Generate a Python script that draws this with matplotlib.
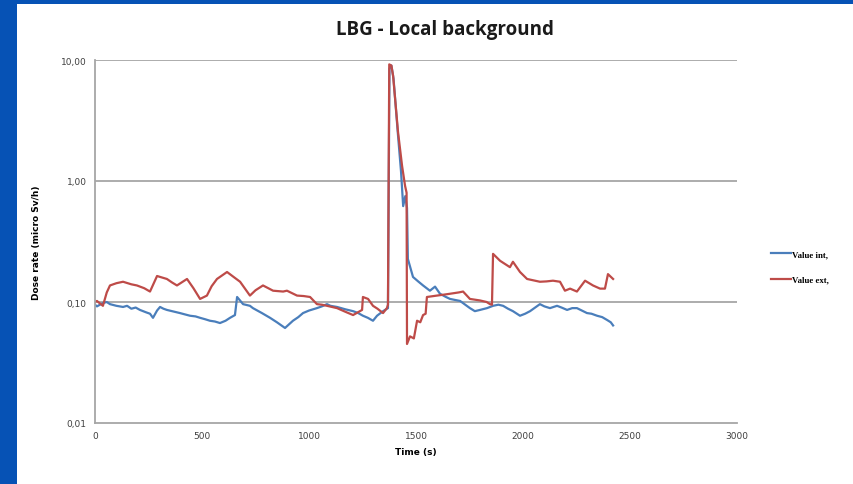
import matplotlib.pyplot as plt
from matplotlib.patches import Rectangle
from matplotlib.ticker import FixedLocator, NullLocator

# Value int, (blue)
t_int = [0, 9, 37, 55, 70, 100, 131, 150, 170, 190, 210, 240, 257, 271, 290, 304, 320, 336,
         360, 397, 420, 444, 470, 491, 515, 537, 560, 584, 610, 631, 654, 664, 692, 724,
         738, 780, 818, 850, 888, 925, 950, 972, 1000, 1037, 1060, 1084, 1100, 1131, 1170,
         1206, 1230, 1252, 1275, 1299, 1318, 1346, 1369, 1376, 1385, 1395, 1415, 1430, 1440,
         1450, 1458, 1462, 1486, 1510, 1533, 1565, 1589, 1612, 1640, 1659, 1706, 1730, 1752,
         1775, 1799, 1832, 1860, 1885, 1907, 1930, 1953, 1986, 2010, 2033, 2079, 2100, 2126,
         2159, 2180, 2206, 2230, 2252, 2275, 2299, 2320, 2346, 2370, 2393, 2410, 2421]
v_int = [0.095, 0.092, 0.098, 0.100, 0.096, 0.093, 0.091, 0.093, 0.088, 0.090, 0.086, 0.082,
         0.080, 0.074, 0.085, 0.091, 0.088, 0.086, 0.084, 0.081, 0.079, 0.077, 0.076, 0.074,
         0.072, 0.070, 0.069, 0.067, 0.070, 0.074, 0.078, 0.110, 0.096, 0.093, 0.089, 0.081,
         0.074, 0.068, 0.061, 0.070, 0.075, 0.081, 0.085, 0.089, 0.092, 0.096, 0.093, 0.091,
         0.087, 0.084, 0.081, 0.077, 0.074, 0.070, 0.077, 0.084, 0.089, 8.5, 9.0, 7.0, 2.5,
         1.2, 0.62, 0.75, 0.6, 0.227, 0.161, 0.148, 0.137, 0.124, 0.134, 0.117, 0.110, 0.106,
         0.102, 0.095, 0.089, 0.084, 0.086, 0.089, 0.093, 0.095, 0.093, 0.088, 0.084, 0.077,
         0.080, 0.084, 0.096, 0.092, 0.089, 0.093, 0.090, 0.086, 0.089, 0.089, 0.085, 0.081,
         0.080, 0.077, 0.075, 0.071, 0.068, 0.064]

# Value ext, (red)
t_ext = [0, 9, 37, 55, 70, 100, 131, 170, 196, 230, 257, 290, 310, 336, 360, 383, 430, 460,
         491, 523, 545, 570, 617, 650, 678, 724, 750, 785, 832, 879, 897, 944, 975, 1005,
         1037, 1060, 1084, 1131, 1170, 1206, 1248, 1252, 1276, 1299, 1320, 1346, 1364, 1369,
         1375, 1385, 1393, 1416, 1435, 1449, 1456, 1458, 1472, 1490, 1505, 1520, 1533, 1545,
         1551, 1598, 1630, 1659, 1700, 1720, 1752, 1799, 1830, 1846, 1855, 1860, 1893, 1939,
         1953, 1986, 2019, 2079, 2110, 2140, 2173, 2196, 2220, 2252, 2290, 2327, 2360, 2383,
         2397, 2421]
v_ext = [0.100, 0.102, 0.093, 0.120, 0.137, 0.143, 0.147, 0.140, 0.137, 0.130, 0.122, 0.164,
         0.160, 0.155, 0.145, 0.137, 0.155, 0.130, 0.106, 0.113, 0.135, 0.155, 0.177, 0.160,
         0.147, 0.113, 0.125, 0.137, 0.124, 0.122, 0.124, 0.113, 0.112, 0.110, 0.096, 0.095,
         0.093, 0.089, 0.083, 0.078, 0.086, 0.110, 0.106, 0.093, 0.088, 0.081, 0.089, 0.095,
         9.2, 9.0, 7.4, 2.54, 1.33, 0.91, 0.8, 0.045, 0.052, 0.050, 0.070, 0.068, 0.078,
         0.080, 0.110, 0.113, 0.115, 0.117, 0.120, 0.122, 0.106, 0.103, 0.100, 0.096, 0.095,
         0.250, 0.219, 0.194, 0.215, 0.177, 0.155, 0.147, 0.148, 0.150, 0.147, 0.124, 0.129,
         0.122, 0.150, 0.137, 0.129, 0.129, 0.170, 0.155]

y_ticks = [0.01, 0.1, 1, 10]
y_labels = ['0,01', '0,10', '1,00', '10,00']
x_ticks = [0, 500, 1000, 1500, 2000, 2500, 3000]

fig = plt.figure(figsize=(8.54, 4.85), dpi=100)
fig.patch.set_facecolor('#0652b5')
fig.patches.append(Rectangle((17 / 854, 0), 1, 480 / 485, transform=fig.transFigure,
                             facecolor='white', edgecolor='none', zorder=-10))

ax = fig.add_axes([95 / 854, 61 / 485, 642 / 854, 363 / 485])
ax.set_facecolor('none')
ax.plot(t_int, v_int, color='#4a7ebb', lw=1.6, label='Value int,')
ax.plot(t_ext, v_ext, color='#be4b48', lw=1.6, label='Value ext,')

ax.set_yscale('log')
ax.set_ylim(0.01, 10)
ax.set_xlim(0, 3000)
ax.yaxis.set_major_locator(FixedLocator(y_ticks))
ax.yaxis.set_minor_locator(NullLocator())
ax.set_yticklabels(y_labels)
ax.set_xticks(x_ticks)
ax.tick_params(length=0, labelsize=6.5, colors='#404040', pad=6)
for y in y_ticks[1:]:
    ax.axhline(y, color='#a6a6a6', lw=1.3, zorder=0)

for s in ['top', 'right']:
    ax.spines[s].set_visible(False)
for s in ['left', 'bottom']:
    ax.spines[s].set_color('#a6a6a6')
    ax.spines[s].set_linewidth(1.3)

ax.set_xlabel('Time (s)', fontsize=6.5, fontweight='bold', labelpad=5)
ax.set_ylabel('Dose rate (micro Sv/h)', fontsize=6.5, fontweight='bold', labelpad=14)
fig.text(444.5 / 854, 455 / 485, 'LBG - Local background', ha='center', va='center',
         fontsize=13.5, fontweight='bold', family='Open Sans', color='#1a1a1a')

ax.legend(loc='center left', bbox_to_anchor=(1.04, 0.43), frameon=False,
          handlelength=2.3, handletextpad=0.1, labelspacing=2.0,
          prop={'family': 'Liberation Serif', 'size': 6.3, 'weight': 'bold'})

fig.savefig('out.png', dpi=100, facecolor=fig.get_facecolor())
